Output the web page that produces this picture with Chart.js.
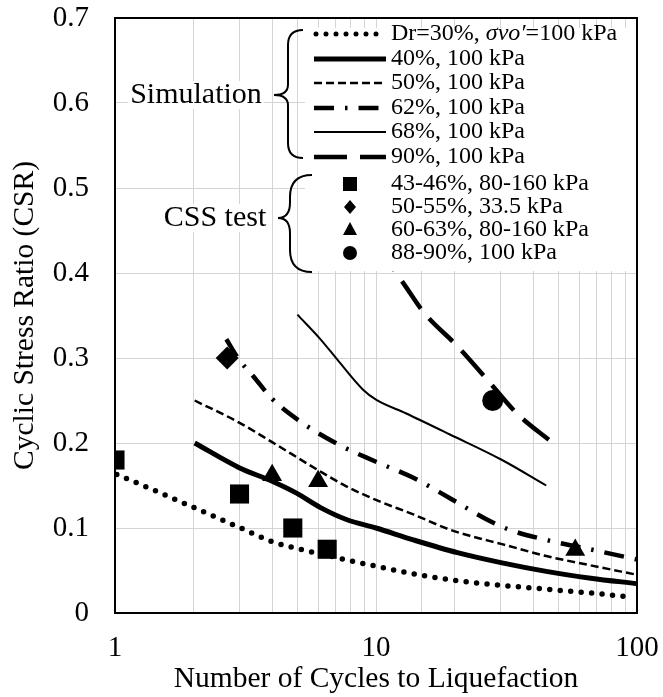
<!DOCTYPE html>
<html>
<head>
<meta charset="utf-8">
<script src="https://cdn.jsdelivr.net/npm/chart.js@4.4.1/dist/chart.umd.min.js"></script>
<style>
  html, body { margin: 0; padding: 0; background: #fff; }
  canvas { display: block; }
</style>
</head>
<body>
<canvas id="csrChart" width="663" height="697"></canvas>
<script>
// simulation curves (cycles, CSR)
const dr30N   = [1.016, 1.35, 1.94, 3.03, 4.0, 5.29, 7.1, 10, 13.9, 20.5, 30.4, 44.9, 66.5, 89.2];
const dr30CSR = [0.163, 0.147, 0.126, 0.100, 0.084, 0.074, 0.065, 0.055, 0.046, 0.038, 0.0325, 0.028, 0.0235, 0.0196];
const dr40N   = [2.02, 2.99, 4.0, 4.96, 6.13, 7.7, 10, 13.9, 20.5, 30.4, 44.9, 66.5, 100];
const dr40CSR = [0.200, 0.171, 0.155, 0.141, 0.124, 0.110, 0.100, 0.086, 0.071, 0.059, 0.049, 0.041, 0.0345];
const dr50N   = [2.02, 2.99, 4.0, 5.93, 7.7, 10, 13.9, 19.2, 23.4, 30.4, 44.9, 66.5, 100];
const dr50CSR = [0.250, 0.224, 0.201, 0.169, 0.149, 0.133, 0.116, 0.098, 0.090, 0.081, 0.067, 0.056, 0.045];
const dr62N   = [2.67, 2.99, 3.4, 4.0, 5.2, 7.2, 10, 13.9, 19.2, 26.6, 32.4, 44.9, 70.8, 100];
const dr62CSR = [0.322, 0.298, 0.278, 0.252, 0.224, 0.198, 0.178, 0.159, 0.135, 0.110, 0.098, 0.086, 0.073, 0.063];
const dr68N   = [5.0, 6.13, 7.2, 8.9, 10, 13.0, 19.2, 30.4, 44.9];
const dr68CSR = [0.351, 0.322, 0.296, 0.263, 0.251, 0.235, 0.210, 0.180, 0.150];
const dr90N   = [10, 13.0, 15.3, 20.5, 26.6, 34.6, 47.6];
const dr90CSR = [0.435, 0.384, 0.353, 0.314, 0.275, 0.235, 0.200];

// CSS test results
const css43N = [1, 3.0, 4.8, 6.5];
const css43CSR = [0.18, 0.14, 0.10, 0.075];
const css50N = [2.69];
const css50CSR = [0.30];
const css60N = [4.0, 6.0, 58];
const css60CSR = [0.162, 0.155, 0.074];
const css88N = [28];
const css88CSR = [0.25];

const xLabels = [1, 10, 100];
const serif = '"Liberation Serif", "Times New Roman", serif';

const pts = (xs, ys) => xs.map((x, i) => ({ x: x, y: ys[i] }));

function curve(label, xs, ys, width, dash, cap) {
  return {
    label: label, data: pts(xs, ys), showLine: true, pointRadius: 0,
    borderColor: '#000', borderWidth: width, borderDash: dash,
    borderCapStyle: cap || 'butt', cubicInterpolationMode: 'monotone', order: 2
  };
}
function marks(label, xs, ys, style, r) {
  return {
    label: label, data: pts(xs, ys), showLine: false, pointStyle: style,
    pointRadius: r, backgroundColor: '#000', borderColor: '#000', borderWidth: 0, order: 1
  };
}

const simRows = [
  { label: '40%, 100 kPa', width: 5, dash: [] },
  { label: '50%, 100 kPa', width: 2.5, dash: [8, 4] },
  { label: '62%, 100 kPa', width: 4.5, dash: [20, 11, 2.5, 11] },
  { label: '68%, 100 kPa', width: 2, dash: [] },
  { label: '90%, 100 kPa', width: 4.5, dash: [33, 13] }
];
const cssRows = ['43-46%, 80-160 kPa', '50-55%, 33.5 kPa', '60-63%, 80-160 kPa', '88-90%, 100 kPa'];

function brace(ctx, xTip, xSpine, xEnd, yTop, yMid, yBot) {
  const r = xEnd - xSpine;
  ctx.beginPath();
  ctx.moveTo(xEnd, yTop);
  ctx.quadraticCurveTo(xSpine, yTop, xSpine, yTop + r);
  ctx.lineTo(xSpine, yMid - r * 0.7);
  ctx.quadraticCurveTo(xSpine, yMid, xTip, yMid);
  ctx.quadraticCurveTo(xSpine, yMid, xSpine, yMid + r * 0.7);
  ctx.lineTo(xSpine, yBot - r);
  ctx.quadraticCurveTo(xSpine, yBot, xEnd, yBot);
  ctx.stroke();
}

const legendPlugin = {
  id: 'groupLegend',
  afterDatasetsDraw(chart) {
    const ctx = chart.ctx;
    const area = chart.chartArea;
    ctx.save();
    ctx.fillStyle = '#fff';
    ctx.fillRect(305, area.top + 10, area.right - 306, 243);

    // group names
    ctx.font = '30px ' + serif;
    ctx.textBaseline = 'middle';
    ctx.textAlign = 'center';
    [['Simulation', 196, 95], ['CSS test', 215, 218]].forEach(function (g) {
      const w = ctx.measureText(g[0]).width;
      ctx.fillStyle = '#fff';
      ctx.fillRect(g[1] - w / 2 - 2, g[2] - 14, w + 4, 28);
      ctx.fillStyle = '#000';
      ctx.fillText(g[0], g[1], g[2]);
    });
    ctx.strokeStyle = '#000';
    ctx.lineWidth = 2;
    brace(ctx, 274, 288, 303, 30, 95, 158);
    brace(ctx, 278, 290, 312, 175, 218, 272);

    // line samples
    const x0 = 314, x1 = 386, tx = 391;
    const lineY = [34, 59, 83, 108, 132, 157];
    ctx.lineCap = 'round';
    ctx.lineWidth = 5;
    ctx.setLineDash([0, 10]);
    ctx.beginPath(); ctx.moveTo(x0 + 2, lineY[0]); ctx.lineTo(x1, lineY[0]); ctx.stroke();
    ctx.lineCap = 'butt';
    simRows.forEach(function (row, i) {
      ctx.lineWidth = row.width;
      ctx.setLineDash(row.dash);
      ctx.beginPath(); ctx.moveTo(x0, lineY[i + 1]); ctx.lineTo(x1, lineY[i + 1]); ctx.stroke();
    });
    ctx.setLineDash([]);

    ctx.fillStyle = '#000';
    ctx.textAlign = 'left';
    const fs = 24;
    ctx.font = fs + 'px ' + serif;
    let x = tx;
    ctx.fillText('Dr=30%, ', x, lineY[0]);
    x += ctx.measureText('Dr=30%, ').width;
    ctx.font = 'italic ' + fs + 'px ' + serif;
    ctx.fillText('\u03c3vo\u2032', x, lineY[0]);
    x += ctx.measureText('\u03c3vo\u2032').width;
    ctx.font = fs + 'px ' + serif;
    ctx.fillText('=100 kPa', x, lineY[0]);
    simRows.forEach(function (row, i) { ctx.fillText(row.label, tx, lineY[i + 1]); });

    // marker samples
    const mx = 350;
    const markY = [184, 207, 230, 253];
    ctx.fillRect(mx - 7, markY[0] - 7, 14, 14);
    ctx.beginPath();
    ctx.moveTo(mx, markY[1] - 7); ctx.lineTo(mx + 6, markY[1]); ctx.lineTo(mx, markY[1] + 7); ctx.lineTo(mx - 6, markY[1]);
    ctx.closePath(); ctx.fill();
    ctx.beginPath();
    ctx.moveTo(mx, markY[2] - 8); ctx.lineTo(mx + 7, markY[2] + 5); ctx.lineTo(mx - 7, markY[2] + 5);
    ctx.closePath(); ctx.fill();
    ctx.beginPath(); ctx.arc(mx, markY[3], 7, 0, Math.PI * 2); ctx.fill();
    cssRows.forEach(function (t, i) { ctx.fillText(t, tx, markY[i]); });
    ctx.restore();
  },
  afterDraw(chart) {
    const a = chart.chartArea;
    const ctx = chart.ctx;
    ctx.save();
    ctx.strokeStyle = '#000';
    ctx.lineWidth = 2;
    ctx.strokeRect(a.left, a.top, a.right - a.left, a.bottom - a.top);
    ctx.restore();
  }
};

new Chart(document.getElementById('csrChart').getContext('2d'), {
  type: 'scatter',
  data: {
    datasets: [
      marks('43-46%, 80-160 kPa', css43N, css43CSR, 'rect', 13.5),
      marks('50-55%, 33.5 kPa', css50N, css50CSR, 'rectRot', 11.5),
      marks('60-63%, 80-160 kPa', css60N, css60CSR, 'triangle', 11.5),
      marks('88-90%, 100 kPa', css88N, css88CSR, 'circle', 10.5),
      curve('Dr=30%', dr30N, dr30CSR, 5.5, [0, 10.5], 'round'),
      curve('40%', dr40N, dr40CSR, 5, []),
      curve('50%', dr50N, dr50CSR, 2.5, [8, 4]),
      curve('62%', dr62N, dr62CSR, 4.5, [20, 11, 2.5, 11]),
      curve('68%', dr68N, dr68CSR, 2, []),
      curve('90%', dr90N, dr90CSR, 4.5, [33, 13])
    ]
  },
  options: {
    responsive: false,
    animation: false,
    devicePixelRatio: 1,
    layout: { padding: { top: 18, right: 26, left: 0, bottom: 0 } },
    plugins: { legend: { display: false }, tooltip: { enabled: false } },
    scales: {
      x: {
        type: 'logarithmic', min: 1, max: 100,
        afterFit(s) { s.height = 84; s.paddingLeft = 0; s.paddingRight = 0; },
        grid: { color: '#d4d4d4', lineWidth: 1, drawTicks: false },
        border: { color: '#000', width: 2 },
        ticks: {
          autoSkip: false, maxRotation: 0, padding: 18, color: '#000',
          font: { family: serif, size: 29 },
          callback: (v) => xLabels.includes(v) ? String(v) : ''
        },
        title: {
          display: true, text: 'Number of Cycles to Liquefaction', color: '#000',
          font: { family: serif, size: 29.5 }, padding: { top: 0, bottom: 0 }
        }
      },
      y: {
        min: 0, max: 0.7,
        afterFit(s) { s.width = 115; s.paddingTop = 0; s.paddingBottom = 0; },
        grid: { color: '#d4d4d4', lineWidth: 1, drawTicks: false },
        border: { color: '#000', width: 2 },
        ticks: {
          stepSize: 0.1, padding: 26, color: '#000',
          font: { family: serif, size: 29 },
          callback: (v) => v === 0 ? '0' : v.toFixed(1)
        },
        title: {
          display: true, text: 'Cyclic Stress Ratio (CSR)', color: '#000',
          font: { family: serif, size: 29.5 }, padding: { top: 8, bottom: 0 }
        }
      }
    }
  },
  plugins: [legendPlugin]
});
</script>
</body>
</html>
